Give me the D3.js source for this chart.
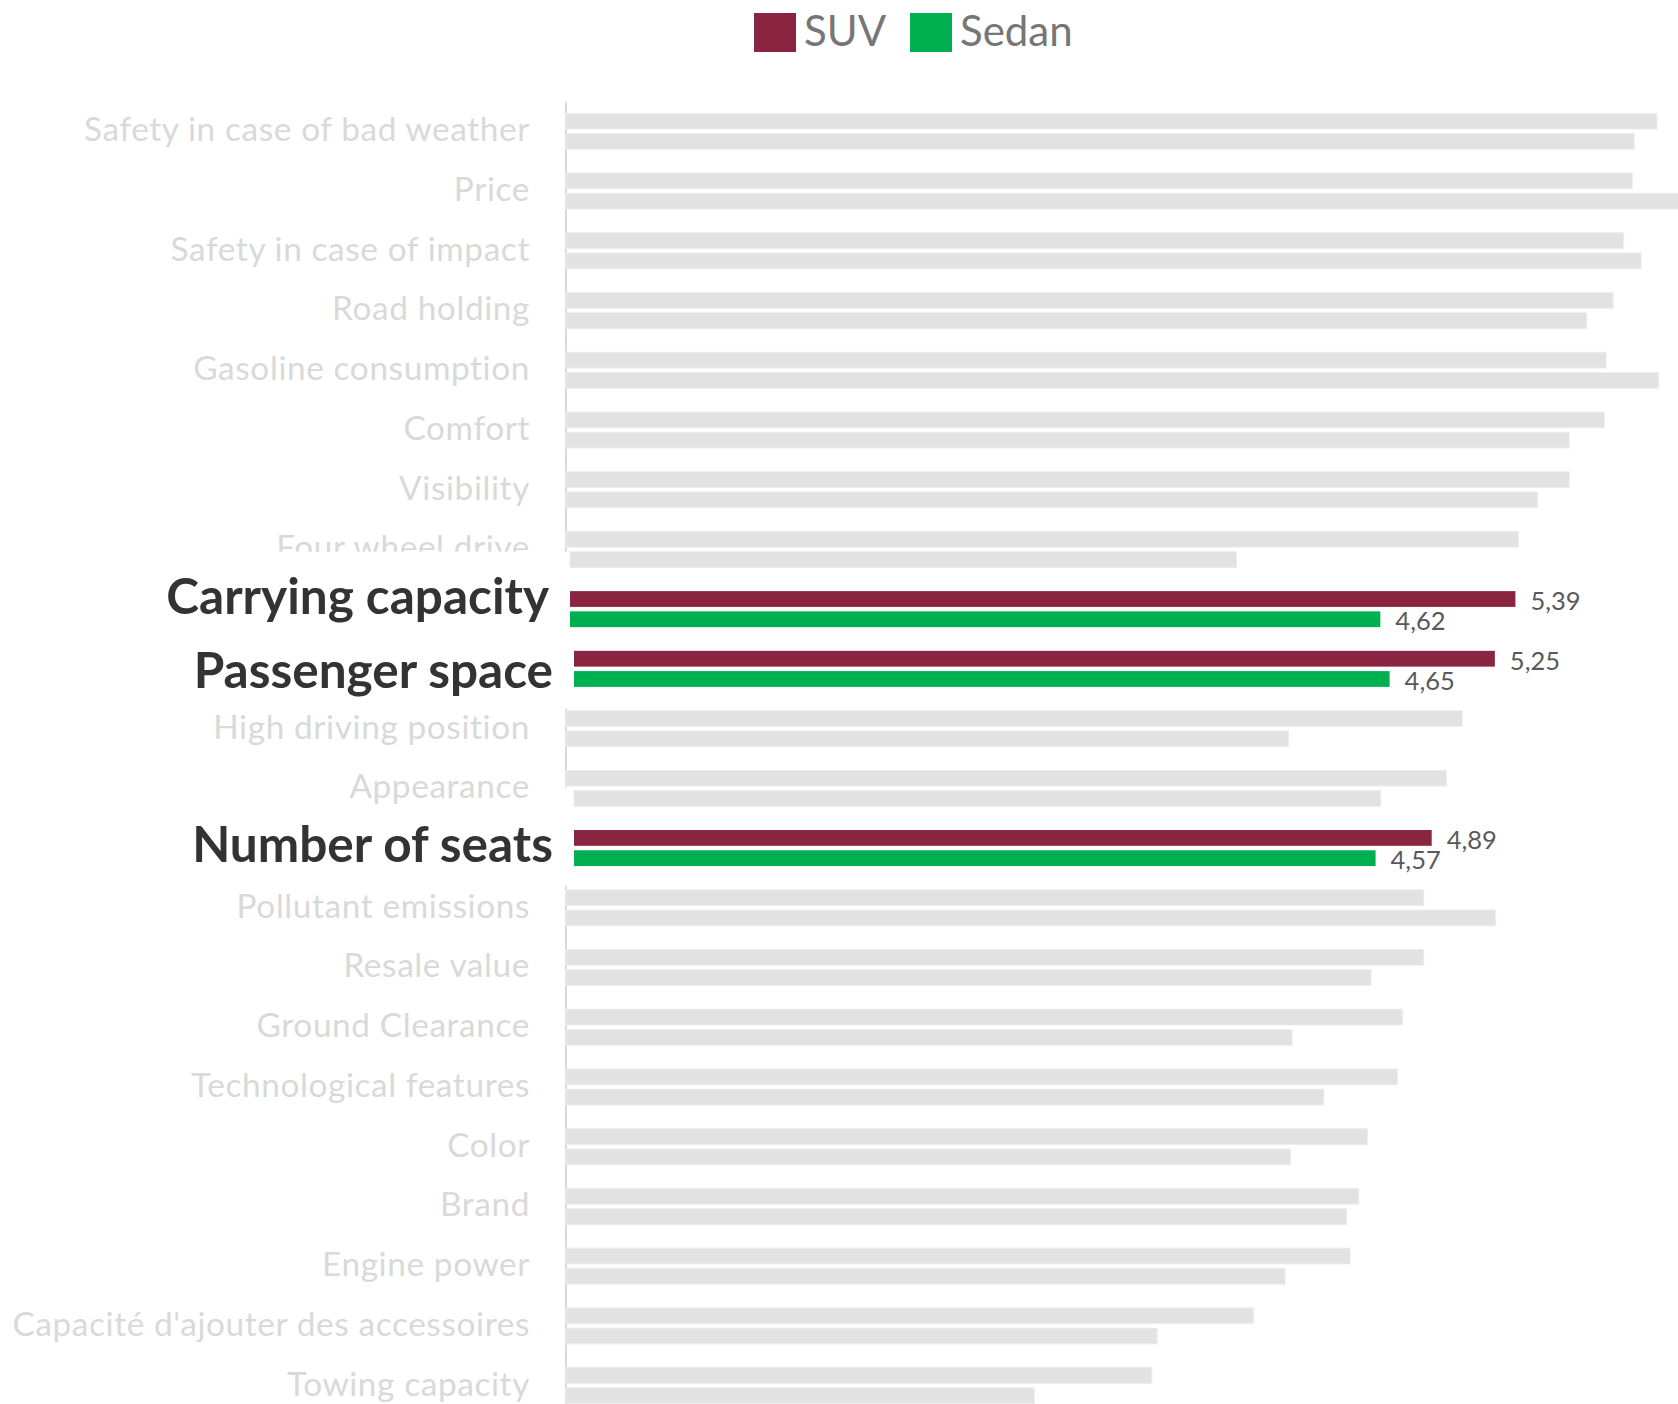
<!DOCTYPE html>
<html>
<head>
<meta charset="utf-8">
<script src="https://cdn.jsdelivr.net/npm/d3@7"></script>
<style>
  html, body { margin: 0; padding: 0; background: #fff; }
  svg { display: block; }
</style>
</head>
<body>
<svg id="chart" width="1678" height="1404"></svg>
<script>
const categories = [
  "Safety in case of bad weather", "Price", "Safety in case of impact", "Road holding",
  "Gasoline consumption", "Comfort", "Visibility", "Four wheel drive",
  "Carrying capacity", "Passenger space", "High driving position", "Appearance",
  "Number of seats", "Pollutant emissions", "Resale value", "Ground Clearance",
  "Technological features", "Color", "Brand", "Engine power",
  "Capacité d'ajouter des accessoires", "Towing capacity"
];
const suvValues = [6.22, 6.08, 6.03, 5.97, 5.93, 5.92, 5.72, 5.43, 5.39, 5.25, 5.11, 5.02,
                   4.89, 4.89, 4.89, 4.77, 4.74, 4.57, 4.52, 4.47, 3.92, 3.34];
const sedanValues = [6.09, 6.42, 6.13, 5.82, 6.23, 5.72, 5.54, 3.80, 4.62, 4.65, 4.12, 4.60,
                     4.57, 5.30, 4.59, 4.14, 4.32, 4.13, 4.45, 4.10, 3.37, 2.67];
const seriesNames = ["SUV", "Sedan"];
const highlighted = ["Carrying capacity", "Passenger space", "Number of seats"];

// ---- layout / style ----
const colors = { SUV: "#8a2541", Sedan: "#00b050" };
const greyBar = "#e2e2e2";
const FONT = "Lato, 'Open Sans', sans-serif";
const rowShift = { "Carrying capacity": 4, "Passenger space": 8, "Number of seats": 8 };
const sedanShift = { "Four wheel drive": 4, "Appearance": 8 };
const labelDy = { "Carrying capacity": -14, "Passenger space": 0, "Number of seats": -5 };

const svg = d3.select("#chart");

const x = d3.scaleLinear().domain([0, 7]).range([566, 566 + 7 * 175.4]);
const y = d3.scaleBand().domain(categories).range([113.3, 1403.6])
  .paddingInner(0.397).paddingOuter(0);
const yInner = d3.scaleBand().domain(seriesNames).range([0, y.bandwidth()]).paddingInner(0.22);

const rows = categories.map((c, i) => ({
  cat: c, SUV: suvValues[i], Sedan: sedanValues[i], hi: highlighted.includes(c)
}));

// axis line
svg.append("line")
  .attr("x1", x(0)).attr("x2", x(0))
  .attr("y1", 102).attr("y2", 1404)
  .attr("stroke", "#d9d9d9").attr("stroke-width", 2);

// grey labels
svg.append("g").selectAll("text")
  .data(rows.filter(r => !r.hi))
  .join("text")
  .attr("x", 530)
  .attr("y", r => y(r.cat) + y.bandwidth() / 2 - 3)
  .attr("text-anchor", "end")
  .attr("dominant-baseline", "central")
  .attr("font-family", FONT)
  .attr("font-size", 33.4)
  .attr("letter-spacing", 0.6)
  .attr("fill", "#d9d9d9")
  .text(r => r.cat);

// white overlays of highlighted blocks
const blocks = [
  { x0: 0, x1: 569, y0: y("Four wheel drive") + yInner("Sedan"), y1: y("High driving position") - 2 },
  { x0: 558, x1: 572, y0: y("Appearance") + yInner("Sedan") - 3, y1: y("Pollutant emissions") - 4 },
  { x0: 0, x1: 572, y0: y("Appearance") + y.bandwidth() + 3, y1: y("Pollutant emissions") - 4 }
];
svg.append("g").selectAll("rect")
  .data(blocks)
  .join("rect")
  .attr("x", d => d.x0).attr("width", d => d.x1 - d.x0)
  .attr("y", d => d.y0).attr("height", d => d.y1 - d.y0)
  .attr("fill", "#fff");

// bars
const flat = [];
rows.forEach(r => seriesNames.forEach(s => {
  const shift = (rowShift[r.cat] || 0) + (s === "Sedan" ? (sedanShift[r.cat] || 0) : 0);
  flat.push({ cat: r.cat, series: s, value: r[s], hi: r.hi, shift });
}));

svg.append("g").selectAll("rect")
  .data(flat)
  .join("rect")
  .attr("x", d => x(0) + d.shift)
  .attr("y", d => y(d.cat) + yInner(d.series))
  .attr("width", d => x(d.value) - x(0))
  .attr("height", yInner.bandwidth())
  .attr("fill", d => d.hi ? colors[d.series] : greyBar)
  .attr("stroke", d => d.hi ? "none" : "#ededed")
  .attr("stroke-width", 1);

// value labels
const fmt = v => d3.format(".2f")(v).replace(".", ",");
svg.append("g").selectAll("text")
  .data(flat.filter(d => d.hi))
  .join("text")
  .attr("x", d => x(d.value) + d.shift + 15)
  .attr("y", d => y(d.cat) + yInner(d.series) + yInner.bandwidth() / 2 + 1)
  .attr("dominant-baseline", "central")
  .attr("font-family", FONT)
  .attr("font-size", 25.5)
  .attr("fill", "#595959")
  .text(d => fmt(d.value));

// bold labels
svg.append("g").selectAll("text")
  .data(rows.filter(r => r.hi))
  .join("text")
  .attr("x", r => x(0) + rowShift[r.cat] - 21)
  .attr("y", r => y(r.cat) + y.bandwidth() / 2 + labelDy[r.cat])
  .attr("text-anchor", "end")
  .attr("dominant-baseline", "central")
  .attr("font-family", FONT)
  .attr("font-weight", "bold")
  .attr("font-size", 49.5)
  .attr("fill", "#333333")
  .text(r => r.cat);

// legend
const legendX = { SUV: 754, Sedan: 910 };
const lg = svg.append("g");
seriesNames.forEach(s => {
  lg.append("rect").attr("x", legendX[s]).attr("y", 13).attr("width", 42).attr("height", 39)
    .attr("fill", colors[s]);
  lg.append("text").attr("x", legendX[s] + 50).attr("y", 46)
    .attr("font-family", FONT).attr("font-size", 42).attr("fill", "#767676")
    .text(s);
});
</script>
</body>
</html>
